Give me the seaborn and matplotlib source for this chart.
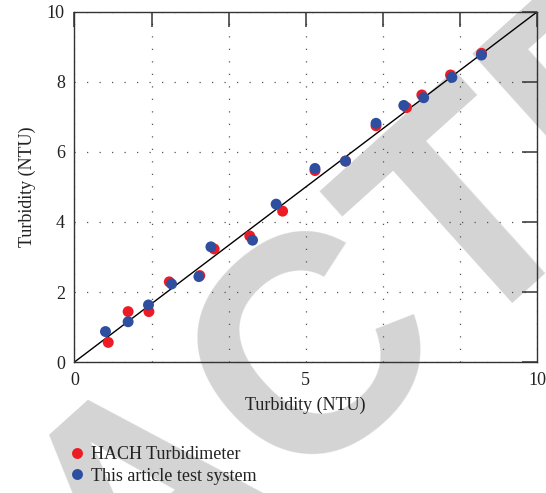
import numpy as np
import pandas as pd
import matplotlib
matplotlib.use("Agg")
import matplotlib.pyplot as plt
from matplotlib.textpath import TextPath
from matplotlib.font_manager import FontProperties
import seaborn as sns

# ---- data ----
hach_x = [0.73, 1.16, 1.61, 2.05, 2.71, 3.02, 3.79, 4.50, 5.20, 5.86, 6.52, 7.18, 7.51, 8.13, 8.80]
hach_y = [0.56, 1.44, 1.44, 2.29, 2.47, 3.23, 3.60, 4.31, 5.47, 5.74, 6.75, 7.27, 7.63, 8.20, 8.82]
test_x = [0.67, 1.16, 1.60, 2.10, 2.69, 2.95, 3.85, 4.36, 5.20, 5.86, 6.52, 7.12, 7.55, 8.16, 8.80]
test_y = [0.87, 1.15, 1.63, 2.23, 2.44, 3.29, 3.48, 4.51, 5.53, 5.74, 6.82, 7.33, 7.55, 8.13, 8.77]
series_names = ["HACH Turbidimeter", "This article test system"]
series_colors = ["#ED1C24", "#2E4FA0"]
x_ticks = [0, 10/6, 20/6, 5, 40/6, 50/6, 10]
x_ticklabels = ["0", "", "", "5", "", "", "10"]
y_ticks = [0, 2, 4, 6, 8, 10]
axis_label = "Turbidity (NTU)"
watermark = "RETRACTED"

df = pd.concat([
    pd.DataFrame({"x": hach_x, "y": hach_y, "series": series_names[0]}),
    pd.DataFrame({"x": test_x, "y": test_y, "series": series_names[1]}),
], ignore_index=True)

sns.set_theme(style="white")
plt.rcParams["font.family"] = ["Liberation Serif", "DejaVu Serif"]

W, H, DPI = 5.46, 4.93, 100
fig = plt.figure(figsize=(W, H), dpi=DPI)

# ---- watermark: place so that the letter "C" sits where it does in the reference ----
wm_size_pt = 222
wm_angle = 42
fp = FontProperties(family="Liberation Sans", weight="bold")
size_px = wm_size_pt * DPI / 72
ext_pre = TextPath((0, 0), watermark[:6], size=size_px, prop=fp).get_extents()
ext_c = TextPath((0, 0), "C", size=size_px, prop=fp).get_extents()
c_local = np.array([ext_pre.x1 - ext_c.width / 2, (ext_c.y0 + ext_c.y1) / 2])
th = np.deg2rad(wm_angle)
rot = np.array([[np.cos(th), -np.sin(th)], [np.sin(th), np.cos(th)]])
c_target = np.array([302.0, H * DPI - 331.0])   # pixel position (y up)
anchor = c_target - rot @ c_local
fig.text(anchor[0] / (W * DPI), anchor[1] / (H * DPI), watermark,
         fontproperties=fp, fontsize=wm_size_pt, color="#d4d4d4",
         rotation=wm_angle, rotation_mode="anchor", ha="left", va="baseline",
         zorder=-5)

ax = fig.add_axes([0.1364, 0.2657, 0.8471, 0.7100])
ax.set_facecolor("none")

# identity line
ax.plot([0, 10], [0, 10], color="black", lw=1.0, zorder=2)

sns.scatterplot(data=df, x="x", y="y", hue="series", palette=series_colors,
                hue_order=series_names, s=62, edgecolor="none", linewidth=0,
                ax=ax, zorder=3, legend=True)

ax.set_xlim(0, 10)
ax.set_ylim(0, 10)
ax.set_xticks(x_ticks)
ax.set_xticklabels(x_ticklabels)
ax.set_yticks(y_ticks)
ax.set_yticklabels([str(v) for v in y_ticks])
ax.grid(True, color="#555555", linestyle=(0, (1, 9)), linewidth=0.9)
ax.tick_params(direction="in", length=11, width=1.1, color="#333333",
               top=True, right=True, labelsize=13, labelcolor="#222222", pad=7)
for sp in ax.spines.values():
    sp.set_color("#333333")
    sp.set_linewidth(1.0)
ax.set_xlabel(axis_label, fontsize=13, color="#222222", labelpad=6)
ax.set_ylabel(axis_label, fontsize=13, color="#222222", labelpad=8)

handles, labels = ax.get_legend_handles_labels()
ax.get_legend().remove()
fig.legend(handles, labels, loc="upper left", bbox_to_anchor=(0.1245, 0.0953),
           frameon=False, fontsize=13, handlelength=1.0, handletextpad=0.25,
           labelspacing=0.25, borderpad=0, borderaxespad=0, markerscale=1.0,
           labelcolor="#222222")

fig.savefig("out.png", dpi=DPI)
